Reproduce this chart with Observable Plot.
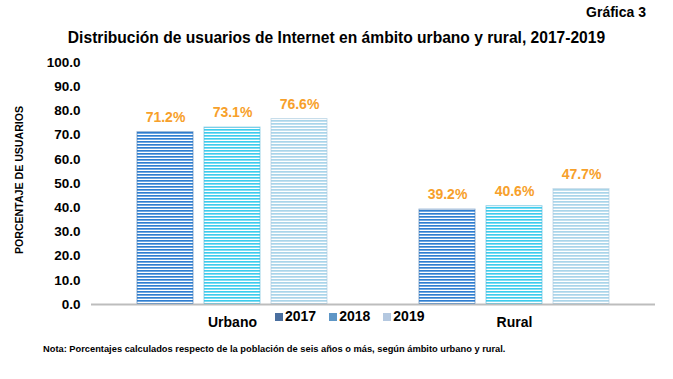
<!DOCTYPE html>
<html>
<head>
<meta charset="utf-8">
<script src="https://cdn.jsdelivr.net/npm/d3@7"></script>
<script src="https://cdn.jsdelivr.net/npm/@observablehq/plot@0.6"></script>
<style>
  html, body { margin: 0; padding: 0; background: #fff; }
  body { width: 673px; height: 379px; overflow: hidden; font-family: "Liberation Sans", Arial, sans-serif; }
  #wrap { position: relative; width: 673px; height: 379px; }
  .abs { position: absolute; white-space: nowrap; font-weight: bold; color: #000; }
  #chart { position: absolute; left: 0; top: 0; }
</style>
</head>
<body>
<div id="wrap">
  <div id="chart"></div>
  <div class="abs" id="grafica" style="right:27px; top:4px; font-size:14px;">Gráfica 3</div>
  <div class="abs" id="title" style="left:0; width:673px; text-align:center; top:29px; font-size:15.6px;"></div>
  <div class="abs" id="ytitle" style="left:19px; top:180px; font-size:10.6px; transform: translate(-50%,-50%) rotate(-90deg);"></div>
  <div class="abs" id="legend" style="left:275px; top:308px; font-size:14px;"></div>
  <div class="abs" id="note" style="left:43px; top:344px; font-size:9.3px;"></div>
</div>
<script>
const ambitos = ["Urbano", "Rural"];
const years = ["2017", "2018", "2019"];
const urbano = [71.2, 73.1, 76.6];
const rural = [39.2, 40.6, 47.7];
const yTicks = [0, 10, 20, 30, 40, 50, 60, 70, 80, 90, 100];
const titleText = "Distribución de usuarios de Internet en ámbito urbano y rural, 2017-2019";
const yLabel = "PORCENTAJE DE USUARIOS";
const noteText = "Nota: Porcentajes calculados respecto de la población de seis años o más, según ámbito urbano y rural.";

const data = [];
years.forEach((yr, i) => {
  data.push({ambito: "Urbano", year: yr, value: urbano[i]});
  data.push({ambito: "Rural", year: yr, value: rural[i]});
});

const stripe = {
  "2017": {a: "#2f7ed0", b: "#8cbbe9", edge: "#3d74b0"},
  "2018": {a: "#3ccdee", b: "#9fe3f5", edge: "#58b7d8"},
  "2019": {a: "#a9d5ea", b: "#cfe6f2", edge: "#a9c9dd"}
};
const legendColors = {"2017": "#4a6f9f", "2018": "#5e96c6", "2019": "#b4c8e0"};

const barMarks = years.map(yr => Plot.barY(data.filter(d => d.year === yr), {
  fx: "ambito", x: "year", y: "value",
  fill: `url(#pat${yr})`, stroke: stripe[yr].edge, strokeWidth: 1, strokeOpacity: 0.6
}));

const chart = Plot.plot({
  width: 673,
  height: 340,
  marginTop: 62,
  marginBottom: 36,
  marginLeft: 90,
  marginRight: 18,
  style: {fontFamily: "'Liberation Sans', Arial, sans-serif", background: "transparent"},
  fx: {domain: ambitos, padding: 0, label: null, axis: null},
  x: {domain: years, paddingInner: 0.17, paddingOuter: 0.674, axis: null},
  y: {domain: [0, 100], ticks: yTicks, label: null},
  marks: [
    ...barMarks,
    Plot.ruleY([0], {stroke: "#bdbdbd", strokeWidth: 2}),
    Plot.text(data, {fx: "ambito", x: "year", y: "value", text: d => d.value.toFixed(1) + "%",
      dy: -15, fill: "#f7a02a", fontWeight: "bold", fontSize: 14}),
    Plot.axisY({ticks: yTicks, tickFormat: d => d.toFixed(1), tickSize: 0, tickPadding: 11,
      fontSize: 13.5, fontWeight: "bold", fill: "#000", label: null}),
    Plot.axisFx({anchor: "bottom", tickSize: 0, tickPadding: 13, fontSize: 14, fontWeight: "bold", fill: "#000", label: null})
  ]
});

const svg = d3.select(chart);
const defs = svg.insert("defs", ":first-child");
years.forEach(yr => {
  const p = defs.append("pattern").attr("id", "pat" + yr)
    .attr("patternUnits", "userSpaceOnUse").attr("width", 8).attr("height", 3);
  p.append("rect").attr("width", 8).attr("height", 3).attr("fill", "#ffffff");
  p.append("rect").attr("width", 8).attr("height", 2).attr("fill", stripe[yr].a);
  p.append("rect").attr("y", 1).attr("width", 8).attr("height", 0.7).attr("fill", stripe[yr].b);
});
document.getElementById("chart").appendChild(chart);

document.getElementById("title").textContent = titleText;
document.getElementById("ytitle").textContent = yLabel;
document.getElementById("note").textContent = noteText;
const leg = document.getElementById("legend");
years.forEach((yr, i) => {
  const s = document.createElement("span");
  s.style.marginRight = "13px";
  s.innerHTML = `<span style="display:inline-block;width:8px;height:8px;background:${legendColors[yr]};margin-right:2px;vertical-align:0px"></span>${yr}`;
  leg.appendChild(s);
});
</script>
</body>
</html>
